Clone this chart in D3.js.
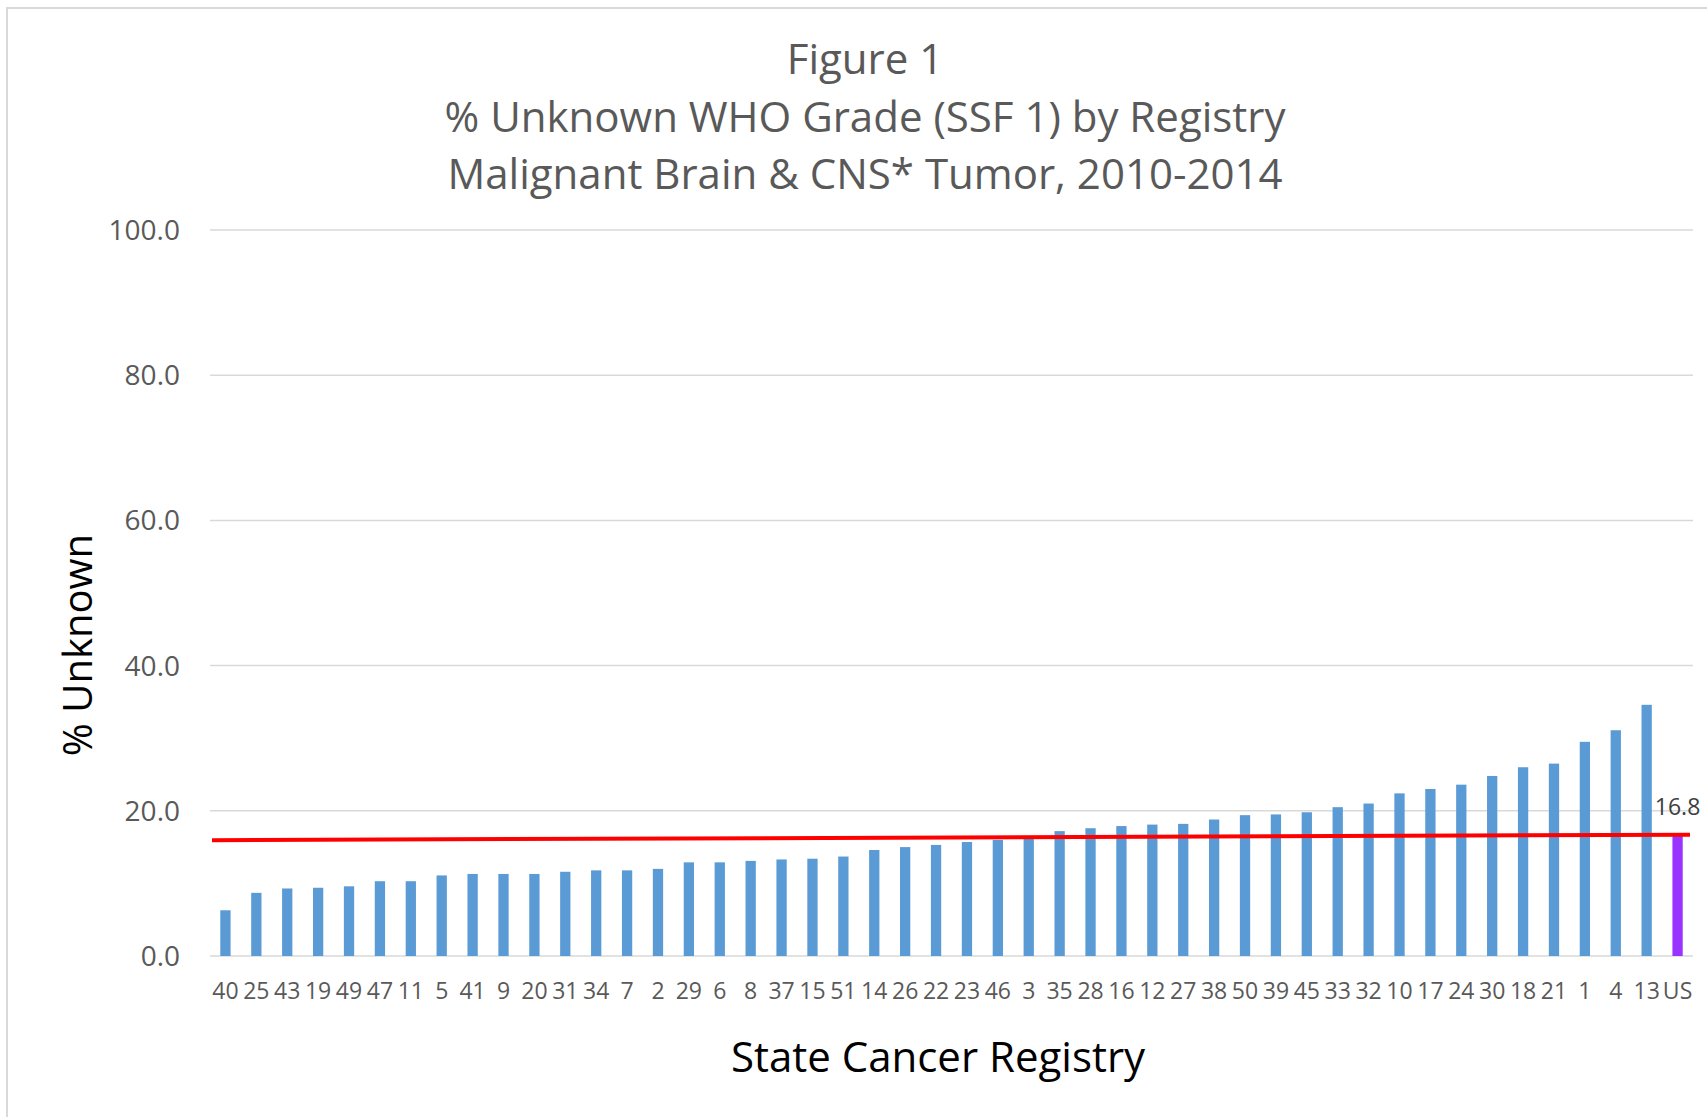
<!DOCTYPE html>
<html>
<head>
<meta charset="utf-8">
<script src="https://cdn.jsdelivr.net/npm/d3@7"></script>
<style>
  body { margin: 0; background: #fff; }
  svg { font-family: "Open Sans", sans-serif; }
</style>
</head>
<body>
<div id="chart"></div>
<script>
// registries, sorted by % unknown
var registries = ["40", "25", "43", "19", "49", "47", "11", "5", "41", "9",
  "20", "31", "34", "7", "2", "29", "6", "8", "37", "15",
  "51", "14", "26", "22", "23", "46", "3", "35", "28", "16",
  "12", "27", "38", "50", "39", "45", "33", "32", "10", "17",
  "24", "30", "18", "21", "1", "4", "13", "US"];

var pctUnknown = [6.3, 8.7, 9.3, 9.4, 9.6, 10.3, 10.3, 11.1, 11.3, 11.3,
  11.3, 11.6, 11.8, 11.8, 12.0, 12.9, 12.9, 13.1, 13.3, 13.4,
  13.7, 14.6, 15.0, 15.3, 15.7, 16.0, 16.3, 17.2, 17.6, 17.9,
  18.1, 18.2, 18.8, 19.4, 19.5, 19.8, 20.5, 21.0, 22.4, 23.0,
  23.6, 24.8, 26.0, 26.5, 29.5, 31.1, 34.6, 16.8];

// red reference line, value at left and right end of the plot
var refLine = [15.95, 16.7];

var yTicks = [0, 20, 40, 60, 80, 100];

var titleLines = ["Figure 1",
  "% Unknown WHO Grade (SSF 1) by Registry",
  "Malignant Brain & CNS* Tumor, 2010-2014"];

var width = 1707, height = 1117;
var margin = { top: 230, right: 14, bottom: 161, left: 210 };

var data = registries.map(function (r, i) {
  return { reg: r, value: pctUnknown[i] };
});

var svg = d3.select("#chart")
  .append("svg")
  .attr("width", width)
  .attr("height", height);

// chart border
svg.append("rect")
  .attr("x", 7)
  .attr("y", 8)
  .attr("width", width + 20)
  .attr("height", height + 20)
  .attr("fill", "#fff")
  .attr("stroke", "#d9d9d9")
  .attr("stroke-width", 2);

var x = d3.scaleBand()
  .domain(registries)
  .range([margin.left, width - margin.right])
  .paddingInner(0.667)
  .paddingOuter(0.333);

var y = d3.scaleLinear()
  .domain([0, 100])
  .range([height - margin.bottom, margin.top]);

// gridlines
svg.append("g")
  .selectAll("line")
  .data(yTicks)
  .enter()
  .append("line")
  .attr("x1", margin.left)
  .attr("x2", width - margin.right)
  .attr("y1", (d) => y(d))
  .attr("y2", (d) => y(d))
  .attr("stroke", "#d9d9d9")
  .attr("stroke-width", 1.5);

// y tick labels
svg.append("g")
  .selectAll("text")
  .data(yTicks)
  .enter()
  .append("text")
  .attr("x", margin.left - 30)
  .attr("y", (d) => y(d))
  .attr("dy", "0.36em")
  .attr("text-anchor", "end")
  .attr("font-size", 28)
  .attr("fill", "#595959")
  .text((d) => d.toFixed(1));

// bars
svg.append("g")
  .selectAll("rect")
  .data(data)
  .enter()
  .append("rect")
  .attr("x", (d) => x(d.reg))
  .attr("y", (d) => y(d.value))
  .attr("width", x.bandwidth())
  .attr("height", (d) => y(0) - y(d.value))
  .attr("fill", (d) => (d.reg == "US" ? "#9933ff" : "#5b9bd5"));

// x tick labels
svg.append("g")
  .selectAll("text")
  .data(data)
  .enter()
  .append("text")
  .attr("x", (d) => x(d.reg) + x.bandwidth() / 2)
  .attr("y", y(0) + 43)
  .attr("text-anchor", "middle")
  .attr("font-size", 23)
  .attr("fill", "#595959")
  .text((d) => d.reg);

// red line
svg.append("line")
  .attr("x1", x.range()[0] + 2)
  .attr("x2", x.range()[1] - 3)
  .attr("y1", y(refLine[0]))
  .attr("y2", y(refLine[1]))
  .attr("stroke", "#ff0000")
  .attr("stroke-width", 4);

// data label for US
var us = data[data.length - 1];
svg.append("text")
  .attr("x", x(us.reg) + x.bandwidth() / 2)
  .attr("y", y(us.value) - 19)
  .attr("text-anchor", "middle")
  .attr("font-size", 23)
  .attr("fill", "#404040")
  .text(us.value.toFixed(1));

// title
svg.append("g")
  .selectAll("text")
  .data(titleLines)
  .enter()
  .append("text")
  .attr("x", 865)
  .attr("y", (d, i) => 74 + i * 57.5)
  .attr("text-anchor", "middle")
  .attr("font-size", 42)
  .attr("fill", "#595959")
  .text((d) => d);

// axis titles
svg.append("text")
  .attr("transform", "translate(92," + 645 + ") rotate(-90)")
  .attr("text-anchor", "middle")
  .attr("font-size", 40)
  .attr("fill", "#000")
  .text("% Unknown");

svg.append("text")
  .attr("x", 938)
  .attr("y", 1072)
  .attr("text-anchor", "middle")
  .attr("font-size", 42)
  .attr("fill", "#000")
  .text("State Cancer Registry");
</script>
</body>
</html>
